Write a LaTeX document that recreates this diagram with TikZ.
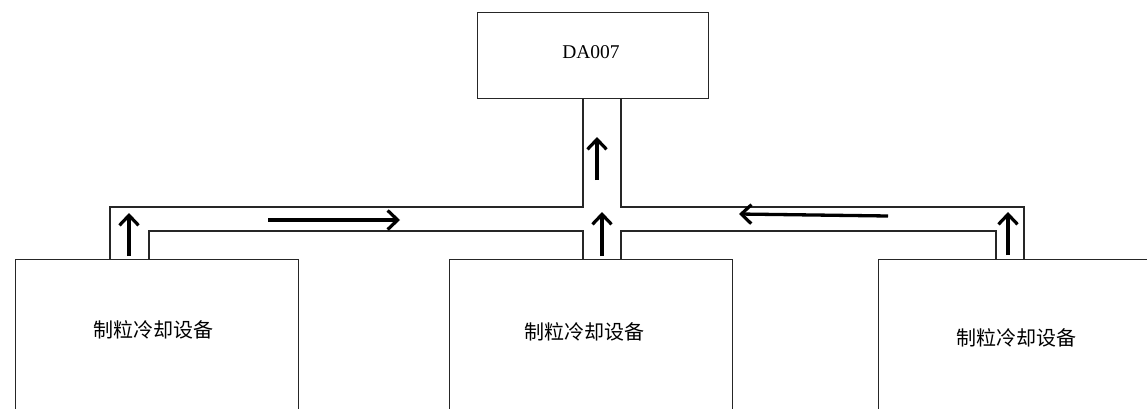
\documentclass[tikz,border=0pt]{standalone}
\usepackage{fontspec}
\setmainfont{Liberation Serif}
\newfontfamily\cjk{Noto Sans CJK SC}
\usetikzlibrary{arrows.meta}
\begin{document}
\begin{tikzpicture}[x=1pt,y=-1pt,
  boxstyle/.style={draw=black!85,line width=1.1pt,rectangle,inner sep=0pt,anchor=north west},
  chan/.style={draw=black!85,line width=1.1pt},
  flow/.style={line width=3.3pt,-{Straight Barb[length=10pt,width=19pt,line width=3.2pt]}},
  cjklabel/.style={font=\cjk\fontsize{20}{22}\selectfont},
]
\useasboundingbox (0,0) rectangle (1147,409);
\clip (0,0) rectangle (1147,409);
% top box
\node[boxstyle,minimum width=231pt,minimum height=86pt] (top) at (477,12) {};
\node[font=\fontsize{19.5}{21}\selectfont] (toplabel) at (591,52) {DA007};
% bottom boxes
\node[boxstyle,minimum width=283pt,minimum height=200pt] (left) at (15,259) {};
\node[boxstyle,minimum width=283pt,minimum height=200pt] (mid) at (449,259) {};
\node[boxstyle,minimum width=300pt,minimum height=200pt] (right) at (878,259) {};
\node[cjklabel] (leftlabel) at (153,330) {制粒冷却设备};
\node[cjklabel] (midlabel) at (584,332) {制粒冷却设备};
\node[cjklabel] (rightlabel) at (1016,338) {制粒冷却设备};
% channel coordinates
\coordinate (c1) at (110,259);
\coordinate (c2) at (110,207);
\coordinate (c3) at (583,207);
\coordinate (c4) at (583,98);
\coordinate (c5) at (621,98);
\coordinate (c6) at (621,207);
\coordinate (c7) at (1024,207);
\coordinate (c8) at (1024,259);
\coordinate (d1) at (149,259);
\coordinate (d2) at (149,231);
\coordinate (d3) at (583,231);
\coordinate (d4) at (583,259);
\coordinate (e1) at (621,259);
\coordinate (e2) at (621,231);
\coordinate (e3) at (996,231);
\coordinate (e4) at (996,259);
\draw[chan] (c1) -- (c2) -- (c3) -- (c4);
\draw[chan] (c5) -- (c6) -- (c7) -- (c8);
\draw[chan] (d1) -- (d2) -- (d3) -- (d4);
\draw[chan] (e1) -- (e2) -- (e3) -- (e4);
% flow arrows
\coordinate (a1s) at (129,256); \coordinate (a1e) at (129,213);
\coordinate (a2s) at (602,256); \coordinate (a2e) at (602,212);
\coordinate (a3s) at (1008,255); \coordinate (a3e) at (1008,212);
\coordinate (a4s) at (597,180); \coordinate (a4e) at (597,137);
\coordinate (a5s) at (268,220); \coordinate (a5e) at (400,220);
\coordinate (a6s) at (888,216); \coordinate (a6e) at (739,214);
\draw[flow] (a1s) -- (a1e);
\draw[flow] (a2s) -- (a2e);
\draw[flow] (a3s) -- (a3e);
\draw[flow] (a4s) -- (a4e);
\draw[flow] (a5s) -- (a5e);
\draw[flow] (a6s) -- (a6e);
\end{tikzpicture}
\end{document}
